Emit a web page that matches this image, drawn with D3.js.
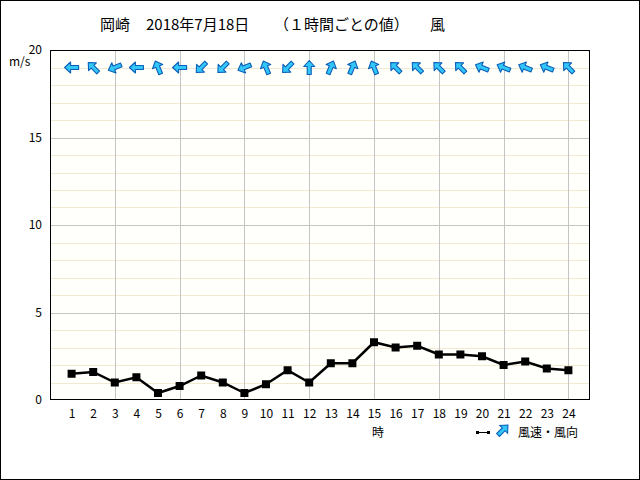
<!DOCTYPE html>
<html><head><meta charset="utf-8">
<script src="https://cdn.jsdelivr.net/npm/d3@7"></script>
<style>
html,body{margin:0;padding:0;background:#fff;}
svg{display:block;}
text{font-family:"Noto Sans CJK JP","DejaVu Sans",sans-serif;fill:#000;}
</style></head><body>
<script>
const hours = d3.range(1, 25);
const windSpeed = [1.5,1.6,1.0,1.3,0.4,0.8,1.4,1.0,0.4,0.9,1.7,1.0,2.1,2.1,3.3,3.0,3.1,2.6,2.6,2.5,2.0,2.2,1.8,1.7];
// direction the arrow points to (degrees clockwise from north)
const arrowHeading = [270,315,247.5,270,337.5,270,225,225,247.5,337.5,225,0,22.5,22.5,337.5,315,315,315,315,292.5,292.5,292.5,292.5,315];
const yTicks = [0,5,10,15,20];
const titleParts = ["岡崎","2018年7月18日","（１時間ごとの値）","風"];
const unitLabel = "m/s";
const xAxisLabel = "時";
const legendLabel = "風速・風向";

const W=640,H=480, L=50,R=590,T=50,B=400;
const svg=d3.select("body").append("svg").attr("width",W).attr("height",H);
svg.append("rect").attr("x",0.5).attr("y",0.5).attr("width",W-1).attr("height",H-1).attr("fill","#fff").attr("stroke","#000");

const x=d3.scaleLinear().domain([0,25]).range([L,R]);
const y=d3.scaleLinear().domain([0,20]).range([B,T]);

svg.append("rect").attr("x",L).attr("y",T).attr("width",R-L).attr("height",B-T).attr("fill","#fffffb");
// minor grid
svg.append("g").selectAll("line").data(d3.range(1,20).filter(v=>v%5)).join("line")
 .attr("x1",L).attr("x2",R).attr("y1",d=>Math.round(y(d))+0.5).attr("y2",d=>Math.round(y(d))+0.5)
 .attr("stroke","#f1ead0").attr("stroke-width",1);
// major horiz grid
svg.append("g").selectAll("line").data([5,10,15]).join("line")
 .attr("x1",L).attr("x2",R).attr("y1",d=>Math.round(y(d))+0.5).attr("y2",d=>Math.round(y(d))+0.5)
 .attr("stroke","#c4c4c4");
// vertical grid
svg.append("g").selectAll("line").data([3,6,9,12,15,18,21,24]).join("line")
 .attr("y1",T).attr("y2",B).attr("x1",d=>Math.round(x(d))+0.5).attr("x2",d=>Math.round(x(d))+0.5)
 .attr("stroke","#c4c4c4");

// axes
const xAxis=d3.axisBottom(x).tickValues(hours).tickSize(0).tickPadding(9);
const gx=svg.append("g").attr("transform",`translate(0,${B})`).call(xAxis);
gx.select(".domain").remove();
gx.selectAll("text").attr("font-size",12).attr("font-family","'Noto Sans CJK JP',sans-serif");
const yAxis=d3.axisLeft(y).tickValues(yTicks).tickSize(0).tickPadding(8);
const gy=svg.append("g").attr("transform",`translate(${L},0)`).call(yAxis);
gy.select(".domain").remove();
gy.selectAll("text").attr("font-size",12).attr("font-family","'Noto Sans CJK JP',sans-serif");

svg.append("rect").attr("x",L+0.5).attr("y",T+0.5).attr("width",R-L-1).attr("height",B-T-1).attr("fill","none").attr("stroke","#000");

// line
const line=d3.line().x((d,i)=>x(hours[i])).y(d=>y(d));
svg.append("path").datum(windSpeed).attr("d",line).attr("fill","none").attr("stroke","#000").attr("stroke-width",2.5);
svg.append("g").selectAll("rect").data(windSpeed).join("rect")
 .attr("x",(d,i)=>x(hours[i])-4).attr("y",d=>y(d)-4).attr("width",8).attr("height",8).attr("fill","#000");

// arrows
const arrowPath="M0,-7 L5.5,-1 L2,-1 L2,7 L-2,7 L-2,-1 L-5.5,-1 Z";
svg.append("g").selectAll("path").data(arrowHeading).join("path")
 .attr("d",arrowPath)
 .attr("transform",(d,i)=>`translate(${x(hours[i])},${y(19)}) rotate(${d})`)
 .attr("fill","#33c6f8").attr("stroke","#0b5fb8").attr("stroke-width",1.1).attr("stroke-linejoin","round");

// title
const tx=[100,146,274,430];
svg.append("g").selectAll("text").data(titleParts).join("text")
 .attr("x",(d,i)=>tx[i]).attr("y",30).attr("font-size",15).text(d=>d);

svg.append("text").attr("x",9).attr("y",66).attr("font-size",12).text(unitLabel);
svg.append("text").attr("x",372).attr("y",437).attr("font-size",12).text(xAxisLabel);

// legend
svg.append("line").attr("x1",477).attr("x2",489).attr("y1",432.5).attr("y2",432.5).attr("stroke","#000").attr("stroke-width",1);
svg.append("rect").attr("x",476).attr("y",431).attr("width",3).attr("height",3).attr("fill","#000");
svg.append("rect").attr("x",487).attr("y",431).attr("width",3).attr("height",3).attr("fill","#000");
svg.append("path").attr("d",arrowPath).attr("transform","translate(503,430) rotate(45)")
 .attr("fill","#33c6f8").attr("stroke","#0b5fb8").attr("stroke-width",1.1);
svg.append("text").attr("x",518).attr("y",437).attr("font-size",12).text(legendLabel);
</script>
</body></html>
